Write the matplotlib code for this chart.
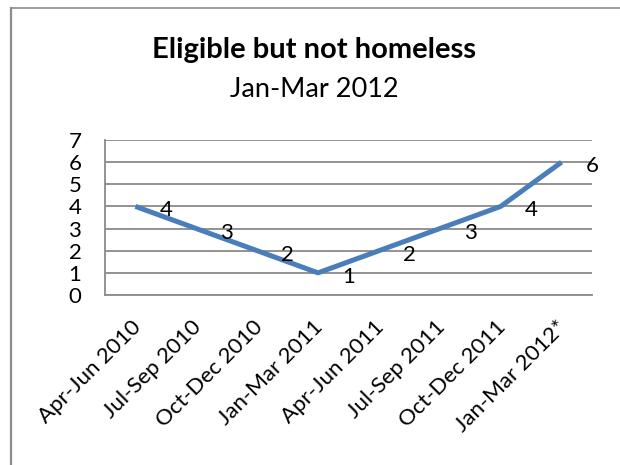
import numpy as np
import matplotlib.pyplot as plt
from matplotlib.lines import Line2D
import matplotlib.transforms as mtransforms

"""data"""

quarters = ['Apr-Jun 2010', 'Jul-Sep 2010', 'Oct-Dec 2010', 'Jan-Mar 2011',
            'Apr-Jun 2011', 'Jul-Sep 2011', 'Oct-Dec 2011', 'Jan-Mar 2012*']
counts   = [4, 3, 2, 1, 2, 3, 4, 6]

title    = 'Eligible but not homeless'
subtitle = 'Jan-Mar 2012'

"""plot"""

plt.rcParams['font.family'] = ['Lato', 'DejaVu Sans']

W, H = 620, 465
fig = plt.figure(figsize=(W/100, H/100), dpi=100)

# chart frame (left and top edges only are visible)
frame_c = '#8c8c8c'
fig.add_artist(Line2D([11/W, 11/W], [0, 1-8/H], transform=fig.transFigure, color=frame_c, lw=1.6))
fig.add_artist(Line2D([11/W, 1], [1-8/H, 1-8/H], transform=fig.transFigure, color=frame_c, lw=1.2))

fig.text(314/W, 1-58/H, title, ha='center', va='baseline', fontsize=21, fontweight='bold')
fig.text(314/W, 1-97/H, subtitle, ha='center', va='baseline', fontsize=19.5)

ax = fig.add_axes([105/W, 1-295/H, (592-105)/W, (295-140)/H])

x = np.arange(len(quarters))
ax.plot(x, counts, color='#4a7ebb', lw=3.6, solid_capstyle='butt', zorder=3)

# value labels to the right of each point
for xi, v in zip(x, counts):
    ax.annotate(str(v), (xi, v), xytext=(24, -4), textcoords='offset pixels',
                ha='left', va='center', fontsize=16, zorder=4)

"""detail"""

grid_c = '#8a8a8a'
ax.set_xlim(-0.5, len(quarters)-0.5)
ax.set_ylim(0, 7)
ax.set_yticks(range(0, 8))
ax.set_xticks(x)
ax.set_xticklabels(quarters, rotation=45, ha='right', rotation_mode='anchor', fontsize=16)
ax.tick_params(axis='y', length=0, pad=17, labelsize=16)
ax.tick_params(axis='x', length=0, pad=16)
for lab in ax.get_xticklabels():
    lab.set_transform(lab.get_transform() + mtransforms.ScaledTranslation(-5/100, 0, fig.dpi_scale_trans))

ax.grid(axis='y', color=grid_c, lw=1.3)
ax.set_axisbelow(True)
for s in ['top', 'right']:
    ax.spines[s].set_visible(False)
for s in ['left', 'bottom']:
    ax.spines[s].set_color(grid_c)
    ax.spines[s].set_linewidth(1.3)

"""save"""

fig.savefig('out.png', dpi=100)
